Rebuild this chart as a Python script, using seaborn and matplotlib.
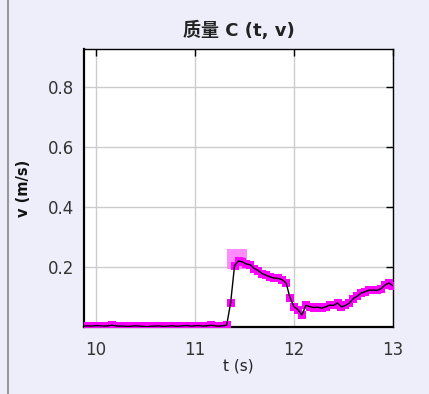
import numpy as np
import pandas as pd
import seaborn as sns
import matplotlib.pyplot as plt
from matplotlib.lines import Line2D

# samples every 0.04 s starting at 9.88 s
t_start = 9.88
t_step = 0.04
v_values = [
    0.003, 0.004, 0.003, 0.005, 0.004, 0.003, 0.004, 0.006, 0.004, 0.003,
    0.003, 0.002, 0.003, 0.004, 0.003, 0.002, 0.001, 0.003, 0.003, 0.004,
    0.002, 0.003, 0.004, 0.003, 0.003, 0.004, 0.005, 0.003, 0.004, 0.005,
    0.003, 0.004, 0.006, 0.004, 0.003, 0.004, 0.006,
    0.080, 0.205, 0.220, 0.217, 0.210, 0.207, 0.195, 0.188, 0.178, 0.172,
    0.167, 0.163, 0.162, 0.158, 0.147, 0.098, 0.068, 0.058, 0.040, 0.072,
    0.068, 0.065, 0.066, 0.063, 0.067, 0.073, 0.072, 0.080, 0.067, 0.072,
    0.080, 0.095, 0.103, 0.113, 0.118, 0.123, 0.123, 0.122, 0.128, 0.140,
    0.147, 0.137,
]
t_values = [round(t_start + t_step * i, 2) for i in range(len(v_values))]
peak_point = (11.42, 0.227)
last_point = (13.0, 0.14)

xticks = [10, 11, 12, 13]
yticks = [0.2, 0.4, 0.6, 0.8]
title = "质量 C (t, v)"

df = pd.DataFrame({"t": t_values, "v": v_values})

sns.set_style("white")
plt.rcParams['font.family'] = ['DejaVu Sans', 'Noto Sans CJK SC']

fig = plt.figure(figsize=(4.29, 3.94), dpi=100)
fig.patch.set_facecolor('#eeeefb')
ax = fig.add_axes([0.196, 0.170, 0.720, 0.706])
ax.set_facecolor('white')

# highlighted squares
ax.scatter([peak_point[0]], [peak_point[1]], marker='s', s=200, color='#ff66ff',
           alpha=0.75, linewidths=0, zorder=2)
ax.scatter([last_point[0]], [last_point[1]], marker='s', s=55, color='#ff44ff',
           alpha=0.8, linewidths=0, zorder=2)

sns.scatterplot(data=df, x="t", y="v", ax=ax, marker='s', s=26, color='#ff00ff',
                linewidth=0, zorder=3)
sns.lineplot(data=df, x="t", y="v", ax=ax, color='black', linewidth=1.0, zorder=4)

ax.set_xlim(9.88, 13.0)
ax.set_ylim(0, 0.927)
ax.set_xticks(xticks)
ax.set_yticks(yticks)
ax.set_xticklabels([str(x) for x in xticks])
ax.set_yticklabels([f"{y:.1f}" for y in yticks])
ax.grid(True, color='#cccccc', linewidth=1)
ax.set_axisbelow(True)
ax.tick_params(direction='in', length=5, width=1, colors='black', labelsize=12,
               labelcolor='#333333', top=True, right=True)
ax.tick_params(axis='x', pad=10)
ax.tick_params(axis='y', pad=7)
for side in ['top', 'right', 'left', 'bottom']:
    ax.spines[side].set_color('black')
    ax.spines[side].set_linewidth(1.0)
ax.spines['left'].set_linewidth(1.6)
ax.spines['bottom'].set_linewidth(1.6)

ax.set_xlabel("t (s)", fontsize=11, labelpad=0, color='#222222')
ax.set_ylabel("v (m/s)", fontsize=10.5, fontweight='bold', labelpad=12, color='#111111')
ax.set_title(title, fontsize=13, fontweight='bold', pad=9, color='#222222')

# gray border line on left of figure
fig.add_artist(Line2D([0.019, 0.019], [0.0, 1.0], color='#999999', linewidth=1.5,
                      transform=fig.transFigure))

fig.savefig("out.png", dpi=100, facecolor=fig.get_facecolor())
